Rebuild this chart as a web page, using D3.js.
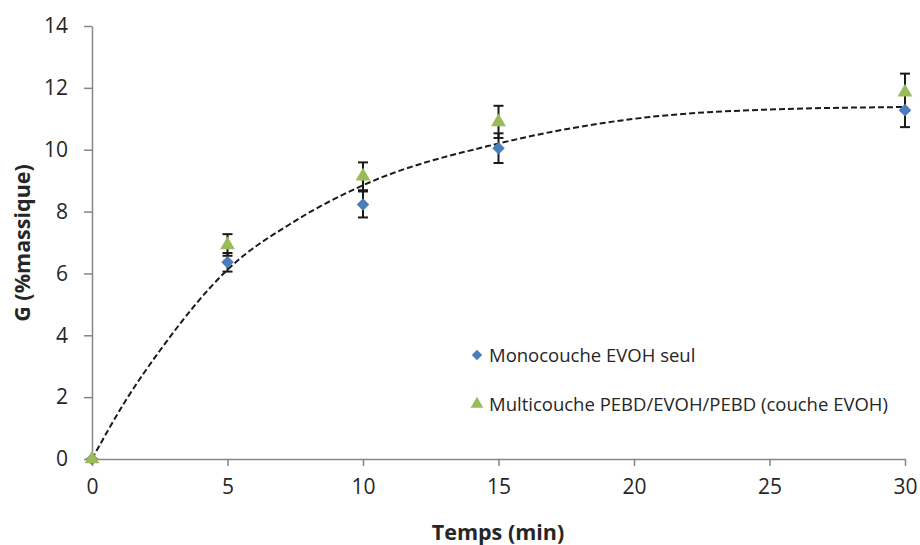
<!DOCTYPE html>
<html>
<head>
<meta charset="utf-8">
<script src="https://cdn.jsdelivr.net/npm/d3@7"></script>
<style>
  body { margin: 0; background: #fff; }
  text { font-family: "Open Sans", "Noto Sans", sans-serif; }
</style>
</head>
<body>
<div id="chart"></div>
<script>
// Temps (min)
const times = [0, 5, 10, 15, 30];
// Monocouche EVOH seul
const monoValues = [0, 6.36, 8.23, 10.05, 11.28];
const monoErrors = [0, 0.3, 0.42, 0.48, 0.55];
// Multicouche PEBD/EVOH/PEBD (couche EVOH)
const multiValues = [0, 6.92, 9.14, 10.9, 11.86];
const multiErrors = [0, 0.35, 0.45, 0.52, 0.6];
// trend line
const trendTimes = [0, 1.25, 2.5, 5, 7.5, 10, 15, 20, 25, 30];
const trendValues = [0, 1.9, 3.5, 6.12, 7.7, 8.85, 10.2, 11.0, 11.3, 11.38];

const xTicks = [0, 5, 10, 15, 20, 25, 30];
const yTicks = [0, 2, 4, 6, 8, 10, 12, 14];

const W = 920, H = 545;
const margin = { top: 26, right: 15, bottom: 86, left: 92 };
const width = W - margin.left - margin.right;
const height = H - margin.top - margin.bottom;

const svg = d3.select('#chart').append('svg')
  .attr('width', W).attr('height', H);
const g = svg.append('g').attr('transform', `translate(${margin.left},${margin.top})`);

const x = d3.scaleLinear().domain([0, 30]).range([0, width]);
const y = d3.scaleLinear().domain([0, 14]).range([height, 0]);

const axisColor = '#868686';
const textColor = '#262626';

// Axes
g.append('g')
  .attr('transform', `translate(0,${height})`)
  .call(d3.axisBottom(x).tickValues(xTicks).tickSize(7).tickPadding(13).tickSizeOuter(0))
  .call(a => a.select('.domain').attr('stroke', axisColor).attr('stroke-width', 1.5))
  .call(a => a.selectAll('.tick line').attr('stroke', axisColor).attr('stroke-width', 1.5))
  .call(a => a.selectAll('.tick text').attr('fill', textColor)
    .style('font-size', '21px').style('font-family', '"Open Sans", sans-serif'));

g.append('g')
  .call(d3.axisLeft(y).tickValues(yTicks).tickSize(8).tickPadding(16).tickSizeOuter(0))
  .call(a => a.select('.domain').attr('stroke', axisColor).attr('stroke-width', 1.5))
  .call(a => a.selectAll('.tick line').attr('stroke', axisColor).attr('stroke-width', 1.5))
  .call(a => a.selectAll('.tick text').attr('fill', textColor)
    .style('font-size', '21px').style('font-family', '"Open Sans", sans-serif'));

// Axis titles
svg.append('text')
  .attr('x', 498).attr('y', 540)
  .attr('text-anchor', 'middle')
  .style('font-size', '21.5px').style('font-weight', 'bold').attr('fill', textColor)
  .text('Temps (min)');

svg.append('text')
  .attr('transform', 'translate(30,243) rotate(-90)')
  .attr('text-anchor', 'middle')
  .style('font-size', '21.5px').style('font-weight', 'bold').attr('fill', textColor)
  .text('G (%massique)');

// Trend line
const trend = trendTimes.map((t, i) => ({ t, v: trendValues[i] }));
g.append('path')
  .datum(trend)
  .attr('fill', 'none')
  .attr('stroke', '#1a1a1a')
  .attr('stroke-width', 2)
  .attr('stroke-dasharray', '6,3')
  .attr('d', d3.line().x(d => x(d.t)).y(d => y(d.v)).curve(d3.curveMonotoneX));

// Error bars
function errorBars(values, errors) {
  const data = times.map((t, i) => ({ t, v: values[i], e: errors[i] })).filter(d => d.e > 0);
  const eg = g.append('g').attr('stroke', '#1a1a1a').attr('stroke-width', 2);
  data.forEach(d => {
    eg.append('line')
      .attr('x1', x(d.t)).attr('x2', x(d.t))
      .attr('y1', y(d.v - d.e)).attr('y2', y(d.v + d.e));
    [d.v - d.e, d.v + d.e].forEach(v => {
      eg.append('line')
        .attr('x1', x(d.t) - 5).attr('x2', x(d.t) + 5)
        .attr('y1', y(v)).attr('y2', y(v));
    });
  });
}
errorBars(monoValues, monoErrors);
errorBars(multiValues, multiErrors);

const blue = '#4a7ebb';
const green = '#9bbb59';
const diamond = d3.symbol().type(d3.symbolDiamond2).size(100);
const triangle = d3.symbol().type(d3.symbolTriangle).size(95);

// Points
g.selectAll('.mono')
  .data(times.map((t, i) => ({ t, v: monoValues[i] })))
  .enter().append('path')
  .attr('class', 'mono')
  .attr('d', diamond)
  .attr('transform', d => `translate(${x(d.t)},${y(d.v)})`)
  .attr('fill', blue);

g.selectAll('.multi')
  .data(times.map((t, i) => ({ t, v: multiValues[i] })))
  .enter().append('path')
  .attr('class', 'multi')
  .attr('d', triangle)
  .attr('transform', d => `translate(${x(d.t)},${y(d.v)})`)
  .attr('fill', green);

// Legend
const legend = svg.append('g');
legend.append('path').attr('d', d3.symbol().type(d3.symbolDiamond2).size(70))
  .attr('transform', 'translate(477,355)').attr('fill', blue);
legend.append('text').attr('x', 489).attr('y', 362)
  .style('font-size', '18.5px').attr('fill', textColor)
  .text('Monocouche EVOH seul');
legend.append('path').attr('d', d3.symbol().type(d3.symbolTriangle).size(70))
  .attr('transform', 'translate(477,404)').attr('fill', green);
legend.append('text').attr('x', 489).attr('y', 411)
  .style('font-size', '18.5px').attr('fill', textColor)
  .text('Multicouche PEBD/EVOH/PEBD (couche EVOH)');
</script>
</body>
</html>
